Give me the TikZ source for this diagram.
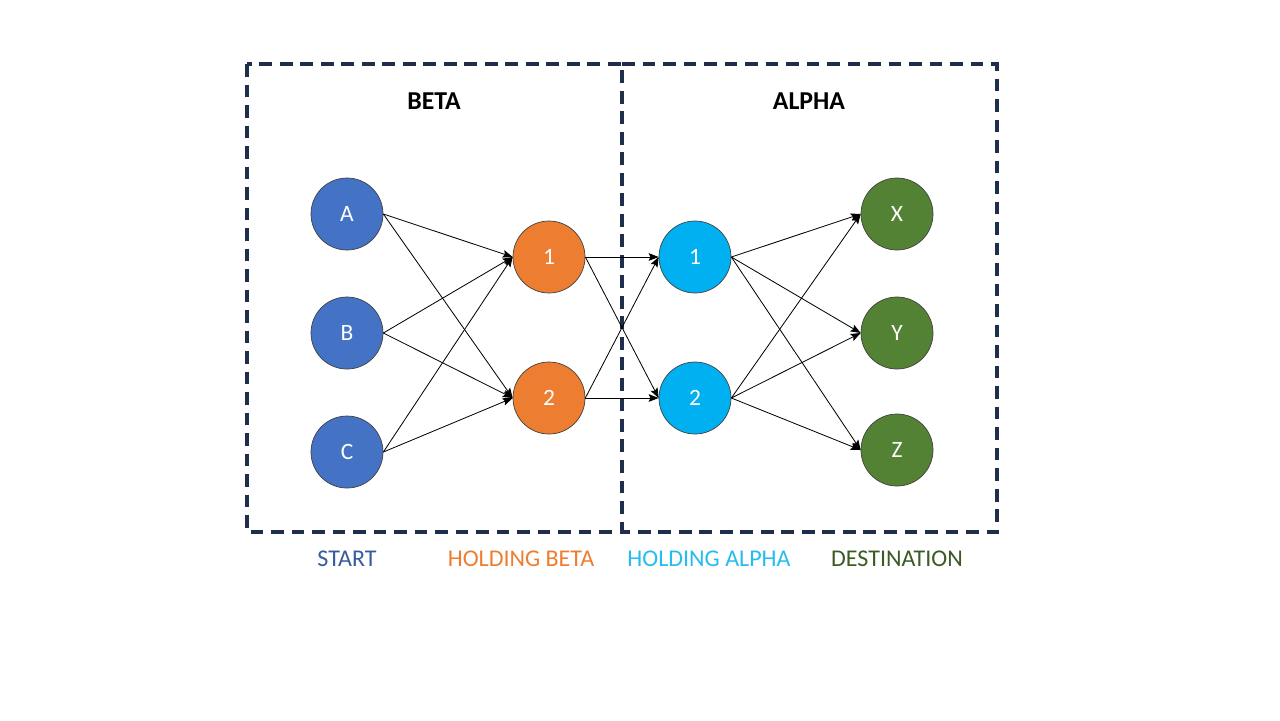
\documentclass[tikz,border=0pt]{standalone}
\usepackage{fontspec}
\setmainfont{Carlito}
\usetikzlibrary{arrows.meta}

\definecolor{startblue}{HTML}{4472C4}
\definecolor{betaorange}{HTML}{ED7D31}
\definecolor{alphacyan}{HTML}{00B0F0}
\definecolor{destgreen}{HTML}{548235}
\definecolor{boxnavy}{HTML}{1F2E4A}

\begin{document}
\begin{tikzpicture}[x=0.03cm,y=-0.03cm,node distance=3.57cm]
	\tikzstyle{state} = [circle, draw=black!75, line width=0.6pt, minimum size=2.16cm, inner sep=0pt, text=white, font=\fontsize{20}{24}\selectfont];
	\tikzstyle{zone} = [draw=boxnavy, line width=2.9pt, dash pattern=on 11pt off 6.5pt];
	\tikzstyle{title} = [font=\fontsize{22}{26}\selectfont\bfseries];
	\tikzstyle{legend} = [font=\fontsize{20.5}{25}\selectfont];
	\tikzstyle{arrow} = [draw=black, line width=0.7pt, -{Stealth[length=8.5pt,width=6.5pt,inset=1.5pt]}];
	\useasboundingbox (0,0) rectangle (1280,720);
	
	\draw [zone] (247,64) rectangle (622,532);
	\draw [zone] (622,64) -- (997,64) -- (997,532) -- (622,532);
	\draw node [title] (beta) at (434,101) {BETA};
	\draw node [title] (alpha) at (809,101) {ALPHA};
	
	\draw node [state, fill=startblue] (a) at (347,214) {A};
	\draw node [state, fill=startblue, below of=a] (b) {B};
	\draw node [state, fill=startblue, below of=b] (c) {C};
	\draw node [state, fill=betaorange] (hb1) at (549,257) {1};
	\draw node [state, fill=betaorange, below of=hb1, node distance=4.23cm] (hb2) {2};
	\draw node [state, fill=alphacyan] (ha1) at (695,257) {1};
	\draw node [state, fill=alphacyan, below of=ha1, node distance=4.23cm] (ha2) {2};
	\draw node [state, fill=destgreen] (x) at (897,214) {X};
	\draw node [state, fill=destgreen, below of=x] (y) {Y};
	\draw node [state, fill=destgreen, below of=y, node distance=3.51cm] (z) {Z};
	
	\draw node [legend, text=startblue!80!black] (lstart) at (347,559) {START};
	\draw node [legend, text=betaorange] (lbeta) at (521,559) {HOLDING BETA};
	\draw node [legend, text=alphacyan!85!white] (lalpha) at (709,559) {HOLDING ALPHA};
	\draw node [legend, text=destgreen!70!black] (ldest) at (897,559) {DESTINATION};
	
	\draw [arrow] (a.east)--(hb1.west);
	\draw [arrow] (a.east)--(hb2.west);
	\draw [arrow] (b.east)--(hb1.west);
	\draw [arrow] (b.east)--(hb2.west);
	\draw [arrow] (c.east)--(hb1.west);
	\draw [arrow] (c.east)--(hb2.west);
	\draw [arrow] (hb1.east)--(ha1.west);
	\draw [arrow] (hb1.east)--(ha2.west);
	\draw [arrow] (hb2.east)--(ha1.west);
	\draw [arrow] (hb2.east)--(ha2.west);
	\draw [arrow] (ha1.east)--(x.west);
	\draw [arrow] (ha1.east)--(y.west);
	\draw [arrow] (ha1.east)--(z.west);
	\draw [arrow] (ha2.east)--(x.west);
	\draw [arrow] (ha2.east)--(y.west);
	\draw [arrow] (ha2.east)--(z.west);
	
\end{tikzpicture}
\end{document}
